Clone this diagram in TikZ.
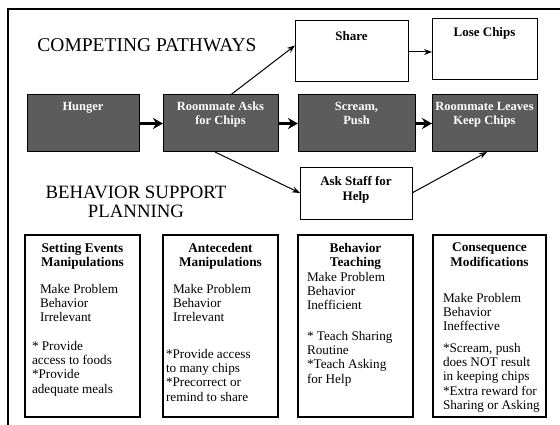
\documentclass[tikz,border=0pt]{standalone}
\usepackage{fontspec}
\setmainfont{Liberation Serif}
\usetikzlibrary{arrows.meta}
\begin{document}
\begin{tikzpicture}[x=1pt,y=-1pt,
  every node/.style={inner sep=0pt, outer sep=0pt},
  frame/.style={line width=1.4pt},
  pathbox/.style={draw, line width=0.9pt, fill=white},
  darkbox/.style={draw, line width=1pt, fill=black!64},
  planbox/.style={draw, line width=1.8pt, minimum width=115pt, minimum height=182pt},
  heading/.style={font=\fontsize{18.8}{19}\selectfont, align=center},
  boxtitle/.style={anchor=north, font=\bfseries\fontsize{13.3}{14.3}\selectfont, align=center},
  pathtext/.style={anchor=north, font=\bfseries\fontsize{13}{15.5}\selectfont, align=center},
  darktext/.style={anchor=north, text=white, font=\bfseries\fontsize{12.5}{14}\selectfont, align=center},
  body/.style={anchor=north west, align=left, font=\fontsize{13.2}{14.3}\selectfont},
  bigarrow/.style={line width=2.6pt, -{Stealth[length=10pt,width=11pt]}},
  smallarrow/.style={line width=1pt, -{Stealth[length=8pt,width=6pt]}},
]
\useasboundingbox (0,0) rectangle (560,425);
\fill[white] (0,0) rectangle (560,425);

% frame (top and left edges)
\draw[frame] (8,425) -- (8,9) -- (560,9);

% headings
\node[heading, font=\fontsize{19.5}{19}\selectfont] (cp) at (147,45) {COMPETING PATHWAYS};
\node[heading] (bsp) at (136,201.5) {BEHAVIOR SUPPORT\\PLANNING};

% competing pathways: main chain
\node[darkbox, minimum width=112pt, minimum height=57pt] (hunger) at (83,123.5) {};
\node[darkbox, minimum width=115pt, minimum height=57pt] (ask) at (220.5,123.5) {};
\node[darkbox, minimum width=117pt, minimum height=57pt] (scream) at (356.5,123.5) {};
\node[darkbox, minimum width=105pt, minimum height=57pt] (leaves) at (484.5,123.5) {};
\node[darktext] (thunger) at ([yshift=-7pt]hunger.north) {Hunger};
\node[darktext] (task) at ([yshift=-7pt]ask.north) {Roommate Asks\\for Chips};
\node[darktext] (tscream) at ([yshift=-7pt]scream.north) {Scream,\\Push};
\node[darktext] (tleaves) at ([yshift=-7pt]leaves.north) {Roommate Leaves\\Keep Chips};

% alternative and desired pathways
\node[pathbox, minimum width=113pt, minimum height=61pt] (share) at (351.5,50.5) {};
\node[pathbox, minimum width=105pt, minimum height=61pt] (lose) at (484.5,48.5) {};
\node[pathbox, minimum width=112pt, minimum height=52pt] (staff) at (356,193) {};
\node[pathtext] (tshare) at ([yshift=-11pt]share.north) {Share};
\node[pathtext] (tlose) at ([yshift=-9pt]lose.north) {Lose Chips};
\node[pathtext] (tstaff) at ([yshift=-9pt]staff.north) {Ask Staff for\\Help};

% connectors
\draw[bigarrow] (hunger) -- (ask);
\draw[bigarrow] (ask) -- (scream);
\draw[bigarrow] (scream) -- (leaves);
\draw[smallarrow] ([xshift=10pt]ask.north) -- ([yshift=5pt]share.west);
\draw[smallarrow] ([yshift=-1.5pt]share.east) -- ([yshift=-1.5pt]share.east -| lose.west);
\draw[smallarrow] ([xshift=-5.5pt]ask.south) -- (staff.west);
\draw[smallarrow] (staff.east) -- ([xshift=2.5pt]leaves.south);

% behavior support planning boxes
\node[planbox] (setting) at (82.5,326) {};
\node[planbox] (antec) at (220.5,326) {};
\node[planbox] (teach) at (355.5,326) {};
\node[planbox, minimum width=113pt] (conseq) at (489.5,326) {};

\node[boxtitle] (tsetting) at ([yshift=-8pt]setting.north) {Setting Events\\Manipulations};
\node[boxtitle] (tantec) at ([yshift=-8pt]antec.north) {Antecedent\\Manipulations};
\node[boxtitle] (tteach) at ([yshift=-8pt]teach.north) {Behavior\\Teaching};
\node[boxtitle] (tconseq) at ([yshift=-8pt]conseq.north) {Consequence\\Modifications};

\node[body] (gsetting) at (40,284) {Make Problem\\Behavior\\Irrelevant};
\node[body] (ssetting) at (32,341) {* Provide\\access to foods\\*Provide\\adequate meals};
\node[body] (gantec) at (173,284) {Make Problem\\Behavior\\Irrelevant};
\node[body] (santec) at (166,349) {*Provide access\\to many chips\\*Precorrect or\\remind to share};
\node[body] (gteach) at (307,272) {Make Problem\\Behavior\\Inefficient};
\node[body] (steach) at (307,331) {* Teach Sharing\\Routine\\*Teach Asking\\for Help};
\node[body] (gconseq) at (443,293) {Make Problem\\Behavior\\Ineffective};
\node[body] (sconseq) at (443,343) {*Scream, push\\does NOT result\\in keeping chips\\*Extra reward for\\Sharing or Asking};
\end{tikzpicture}
\end{document}
